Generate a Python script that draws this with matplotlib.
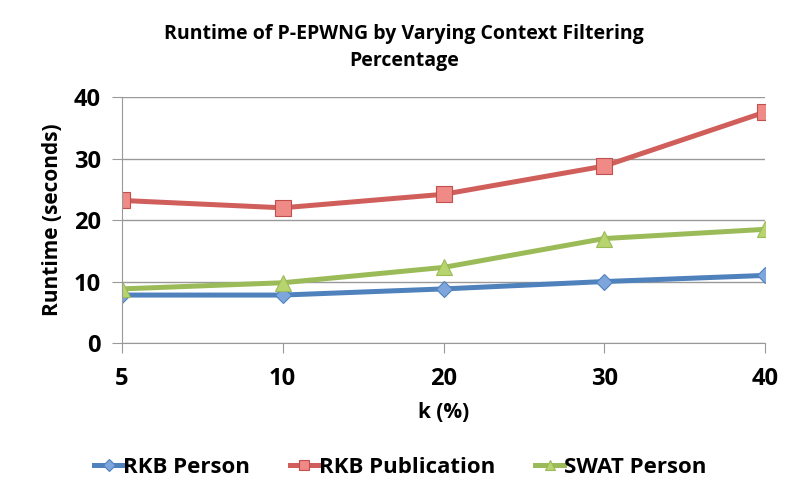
import matplotlib
matplotlib.use('Agg')
import matplotlib.pyplot as plt
import numpy as np

plt.rcParams['font.family'] = ['Open Sans', 'DejaVu Sans']
plt.rcParams['font.weight'] = 'bold'

cats = ['5', '10', '20', '30', '40']
rkb_person = [7.8, 7.8, 8.8, 10.0, 11.0]
rkb_pub = [23.2, 22.0, 24.2, 28.8, 37.6]
swat_person = [8.8, 9.8, 12.3, 17.0, 18.5]

fig = plt.figure(figsize=(7.85, 4.96), dpi=100)
ax = fig.add_axes([0.155, 0.3085, 0.82, 0.4955])
x = np.arange(len(cats))

ax.plot(x, rkb_person, color='#4F81BD', lw=3.6, marker='D', ms=8.5,
        mfc='#7EA6DC', mec='#4F81BD', mew=0.8, label='RKB Person')
ax.plot(x, rkb_pub, color='#D05E5A', lw=3.6, marker='s', ms=11,
        mfc='#F08A86', mec='#C0504D', mew=0.8, label='RKB Publication')
ax.plot(x, swat_person, color='#9BBB59', lw=3.6, marker='^', ms=11,
        mfc='#B8D46E', mec='#9BBB59', mew=0.8, label='SWAT Person')

ax.set_xlim(0, 4)
ax.set_ylim(0, 40)
ax.set_yticks([0, 10, 20, 30, 40])
ax.set_xticks(x)
ax.set_xticklabels(cats)
ax.yaxis.grid(True, color='#999999', lw=1)
ax.set_axisbelow(True)
for s in ['top', 'right']:
    ax.spines[s].set_visible(False)
ax.spines['left'].set_color('#999999')
ax.spines['bottom'].set_color('#999999')
ax.tick_params(axis='y', length=7, color='#999999', labelsize=17, pad=8)
ax.tick_params(axis='x', length=7, color='#999999', labelsize=17, pad=10)
for lb in ax.get_xticklabels() + ax.get_yticklabels():
    lb.set_fontweight('bold')

ax.set_xlabel('k (%)', fontsize=15, fontweight='bold', labelpad=8)
ax.set_ylabel('Runtime (seconds)', fontsize=15, fontweight='bold', labelpad=8)
fig.suptitle('Runtime of P-EPWNG by Varying Context Filtering\nPercentage',
             x=0.515, y=0.952, fontsize=14, fontweight='bold', linespacing=1.45)

fig.legend(loc='center', bbox_to_anchor=(0.51, 0.057), ncol=3, frameon=False,
           handlelength=1.3, handletextpad=0.0, columnspacing=1.8, markerscale=0.7,
           prop={'weight': 'bold', 'size': 16})

fig.savefig('out.png', dpi=100)
